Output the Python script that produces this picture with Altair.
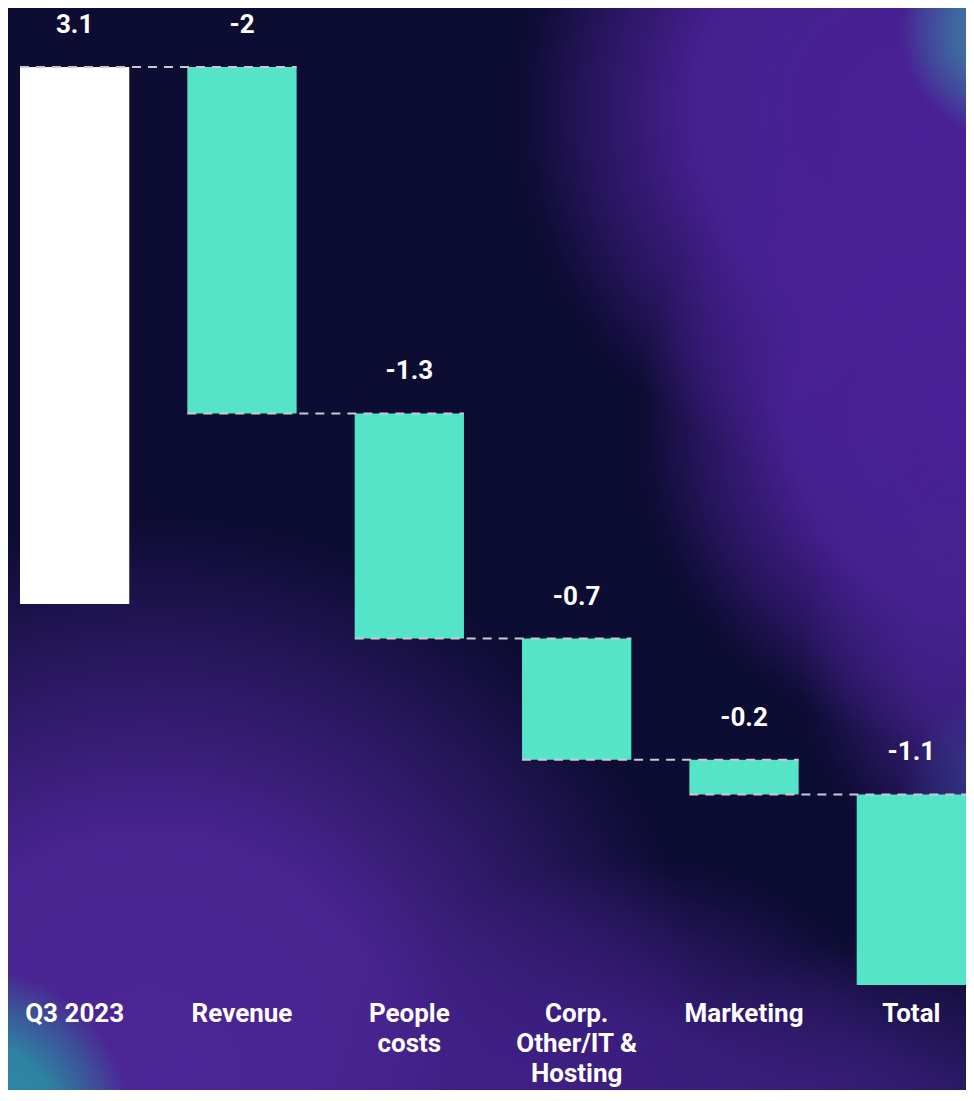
import altair as alt
import pandas as pd
import numpy as np

# ---------------- data ----------------
categories = ["Q3 2023", "Revenue", "People costs", "Corp. Other/IT & Hosting", "Marketing", "Total"]
deltas = [3.1, -2.0, -1.3, -0.7, -0.2, -1.1]
value_labels = ["3.1", "-2", "-1.3", "-0.7", "-0.2", "-1.1"]
axis_label_lines = [["Q3 2023"], ["Revenue"], ["People", "costs"],
                    ["Corp.", "Other/IT &", "Hosting"], ["Marketing"], ["Total"]]
bar_kinds = ["base", "change", "change", "change", "change", "change"]

ends = [round(v, 2) for v in np.cumsum(deltas)]
starts = [0.0] + ends[:-1]

bars = pd.DataFrame({
    "cat": categories,
    "start": starts,
    "end": ends,
    "top": [max(s, e) for s, e in zip(starts, ends)],
    "label": value_labels,
    "kind": bar_kinds,
})

links = pd.DataFrame({
    "cat": categories[:-1],
    "nxt": categories[1:],
    "y": ends[:-1],
})

# ---------------- layout ----------------
W, H = 946, 977
PAD_L, PAD_T, PAD_B = 12, 0, 105
TEAL = "#56e4c9"

xscale = alt.Scale(domain=categories, paddingInner=0.347, paddingOuter=0)
yscale = alt.Scale(domain=[-2.2, 3.4406], nice=False, zero=False)

expr_parts = []
for c, lines in zip(categories, axis_label_lines):
    arr = "[" + ",".join("'" + s + "'" for s in lines) + "]"
    expr_parts.append(f"datum.value == '{c}' ? {arr} : ")
label_expr = "".join(expr_parts) + "datum.value"

dummy = pd.DataFrame({"a": [0]})


def glow(cx, cy, r, rgb, alpha, core=0.5):
    rr, g, b = rgb
    grad = alt.Gradient(
        gradient="radial",
        x1=0.5, y1=0.5, r1=0, x2=0.5, y2=0.5, r2=0.5,
        stops=[
            alt.GradientStop(color=f"rgba({rr},{g},{b},{alpha})", offset=0),
            alt.GradientStop(color=f"rgba({rr},{g},{b},{alpha * 0.92})", offset=core),
            alt.GradientStop(color=f"rgba({rr},{g},{b},{alpha * 0.4})", offset=(core + 1) / 2 + 0.05),
            alt.GradientStop(color=f"rgba({rr},{g},{b},0)", offset=1),
        ],
    )
    ox, oy = 8 + PAD_L, 8 + PAD_T
    return alt.Chart(dummy).mark_rect(fill=grad, strokeWidth=0).encode(
        x=alt.value(cx - r - ox), x2=alt.value(cx + r - ox),
        y=alt.value(cy - r - oy), y2=alt.value(cy + r - oy),
    )


PURPLE = (74, 33, 150)
glows = [
    glow(900, 110, 380, PURPLE, 1.0, 0.55),
    glow(970, 420, 330, PURPLE, 1.0, 0.55),
    glow(1030, 660, 230, (70, 35, 145), 0.8),
    glow(150, 1080, 560, (76, 38, 150), 1.0, 0.45),
    glow(620, 1190, 330, (66, 32, 138), 0.85),
    glow(880, 1200, 260, (60, 32, 130), 0.75),
    glow(1010, 30, 110, (60, 125, 165), 0.85),
    glow(1020, 800, 120, (50, 75, 150), 0.5),
    glow(-20, 1120, 150, (40, 150, 165), 0.9),
]

bar_layer = alt.Chart(bars).mark_bar(strokeWidth=0).encode(
    x=alt.X("cat:N", scale=xscale, sort=categories,
            axis=alt.Axis(title=None, domain=False, ticks=False, labelAngle=0,
                          labelColor="white", labelFont="Roboto", labelFontWeight="bold",
                          labelFontSize=26, labelPadding=15, labelLineHeight=30,
                          labelLimit=300, labelExpr=label_expr, grid=False, zindex=1)),
    y=alt.Y("start:Q", scale=yscale, axis=None),
    y2="end:Q",
    color=alt.Color("kind:N", scale=alt.Scale(domain=["base", "change"],
                                              range=["#ffffff", TEAL]), legend=None),
)

link_layer = alt.Chart(links).mark_rule(
    color="#c9c9d2", strokeWidth=2, strokeDash=[9, 7]
).encode(
    x=alt.X("cat:N", scale=xscale, bandPosition=0),
    x2=alt.X2("nxt:N", bandPosition=1),
    y=alt.Y("y:Q", scale=yscale),
)

text_layer = alt.Chart(bars).mark_text(
    font="Roboto", fontWeight="bold", fontSize=26, color="white",
    baseline="alphabetic", dy=-34
).encode(
    x=alt.X("cat:N", scale=xscale),
    y=alt.Y("top:Q", scale=yscale),
    text="label:N",
)

chart = alt.layer(*glows, bar_layer, link_layer, text_layer).properties(
    width=W, height=H,
    autosize=alt.AutoSizeParams(type="none"),
    padding={"left": PAD_L, "top": PAD_T, "right": 0, "bottom": PAD_B},
    background="#0d0c33",
).configure_view(stroke=None)

chart.save("out.html", embed_options={"renderer": "svg", "actions": False})
